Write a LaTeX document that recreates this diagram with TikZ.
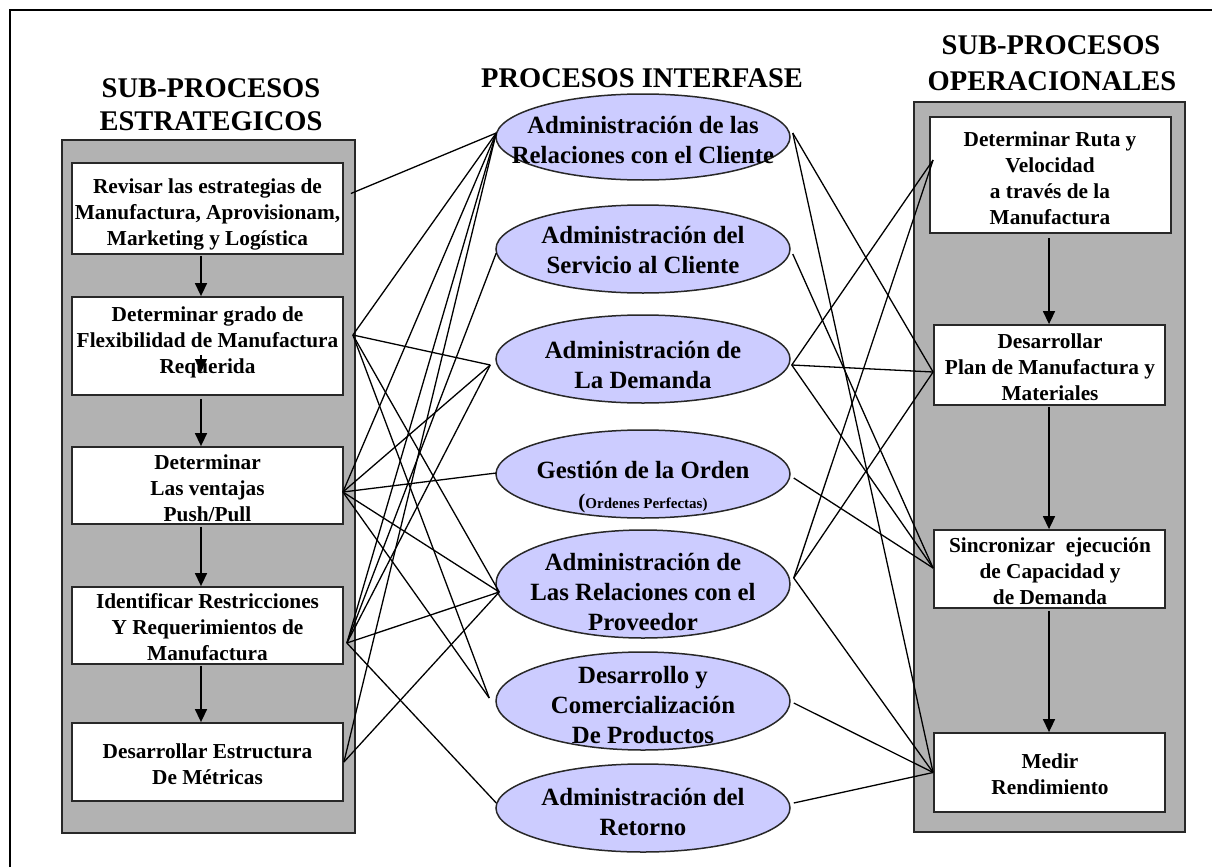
\documentclass[tikz,border=0pt]{standalone}
\usepackage{fontspec}
\setmainfont{Liberation Serif}
\usetikzlibrary{shapes.geometric,arrows.meta,calc}
\definecolor{panelgray}{RGB}{178,178,178}
\definecolor{ellfill}{RGB}{204,204,255}
\definecolor{edge}{RGB}{40,40,40}
\newcommand\ttlfont{\fontsize{28.5}{33}\selectfont\bfseries}
\newcommand\bxfont{\fontsize{21.3}{26}\selectfont\bfseries}
\newcommand\elfont{\fontsize{24.8}{30}\selectfont\bfseries}
\newcommand\smfont{\fontsize{15}{18}\selectfont\bfseries}
\begin{document}
\begin{tikzpicture}[x=1pt,y=-1pt,
  panel/.style={draw=edge, fill=panelgray, line width=1.6pt, inner sep=0pt},
  sbox/.style={draw=edge, fill=white, line width=1.8pt, inner sep=0pt},
  btext/.style={align=center, font=\bxfont, inner sep=0pt},
  ell/.style={ellipse, draw=edge, fill=ellfill, line width=1.5pt, inner sep=0pt, minimum width=294pt},
  etext/.style={align=center, font=\elfont, inner sep=0pt},
  ttl/.style={font=\ttlfont, anchor=base, inner sep=0pt},
  link/.style={draw=black, line width=1.3pt},
  flow/.style={-{Triangle[width=12pt,length=13pt]}, line width=1.5pt}]
\useasboundingbox (0,0) rectangle (1212,867);
\fill[white] (0,0) rectangle (1212,867);
% outer frame
\draw[line width=2.2pt] (10,867) -- (10,10) -- (1212,10);

% titles
\node[ttl] (t1a) at (211,97) {SUB-PROCESOS};
\node[ttl] (t1b) at (211,130) {ESTRATEGICOS};
\node[ttl] (t2) at (642,88) {PROCESOS INTERFASE};
\node[ttl] (t3a) at (1051,55) {SUB-PROCESOS};
\node[ttl] (t3b) at (1052,90) {OPERACIONALES};

% grey panels
\node[panel, minimum width=293pt, minimum height=693pt] (PS) at (208.5,486.5) {};
\node[panel, minimum width=271pt, minimum height=730pt] (PO) at (1049.5,467) {};

% strategic sub-processes
\node[sbox, minimum width=271pt, minimum height=91pt] (L1) at (207.5,208.5) {};
\node[sbox, minimum width=271pt, minimum height=98pt] (L2) at (207.5,346) {};
\node[sbox, minimum width=271pt, minimum height=77pt] (L3) at (207.5,485.5) {};
\node[sbox, minimum width=271pt, minimum height=77pt] (L4) at (207.5,625.5) {};
\node[sbox, minimum width=271pt, minimum height=78pt] (L5) at (207.5,762) {};

% operational sub-processes
\node[sbox, minimum width=241pt, minimum height=116pt] (R1) at (1050.5,175) {};
\node[sbox, minimum width=231pt, minimum height=80pt] (R2) at (1049.5,365) {};
\node[sbox, minimum width=231pt, minimum height=78pt] (R3) at (1049.5,569) {};
\node[sbox, minimum width=231pt, minimum height=79pt] (R4) at (1049.5,772.5) {};

% interface processes
\node[ell, minimum height=86pt] (E1) at (643,137) {};
\node[ell, minimum height=88pt] (E2) at (643,249) {};
\node[ell, minimum height=88pt] (E3) at (643,359) {};
\node[ell, minimum height=88pt] (E4) at (643,474) {};
\node[ell, minimum height=108pt] (E5) at (643,584) {};
\node[ell, minimum height=98pt] (E6) at (643,701) {};
\node[ell, minimum height=88pt] (E7) at (643,808) {};

% flow arrows
\coordinate (ax) at (201,0);
\coordinate (bx) at (1049,0);
\draw[flow] ($(L1.south -| ax)+(0,1)$) -- (L2.north -| ax);
\draw[flow] (201,355) -- (201,372);
\draw[flow] ($(L2.south -| ax)+(0,3)$) -- (L3.north -| ax);
\draw[flow] ($(L3.south -| ax)+(0,2)$) -- (L4.north -| ax);
\draw[flow] ($(L4.south -| ax)+(0,1)$) -- (L5.north -| ax);
\draw[flow] ($(R1.south -| bx)+(0,4)$) -- (R2.north -| bx);
\draw[flow] ($(R2.south -| bx)+(0,1)$) -- (R3.north -| bx);
\draw[flow] ($(R3.south -| bx)+(0,2)$) -- (R4.north -| bx);

% connection ports
\coordinate (pl1) at ($(L1.east)+(7,-15)$);
\coordinate (pl2) at ($(L2.east)+(9,-11)$);
\coordinate (pl3) at ($(L3.east)+(-1,6.5)$);
\coordinate (pl4) at ($(L4.east)+(3,17.5)$);
\coordinate (pl5) at ($(L5.east)+(0,0)$);
\coordinate (pe1) at ($(E1.west)+(1,-4)$);
\coordinate (pe2) at ($(E2.west)+(1,4)$);
\coordinate (pe3) at ($(E3.west)+(-5,6)$);
\coordinate (pe4) at ($(E4.west)+(1,-1)$);
\coordinate (pe5) at ($(E5.west)+(4,8)$);
\coordinate (pe6) at ($(E6.west)+(-6,-3)$);
\coordinate (pe7) at ($(E7.west)+(1,-5)$);
\coordinate (qe1) at ($(E1.east)+(2,-4)$);
\coordinate (qe2) at ($(E2.east)+(2,5)$);
\coordinate (qe3) at ($(E3.east)+(1,6)$);
\coordinate (qe4) at ($(E4.east)+(3,4)$);
\coordinate (qe5) at ($(E5.east)+(3,-6)$);
\coordinate (qe6) at ($(E6.east)+(3,2)$);
\coordinate (qe7) at ($(E7.east)+(3,-5)$);
\coordinate (pr1) at ($(R1.west)+(4,-15)$);
\coordinate (pr2) at ($(R2.west)+(0,7)$);
\coordinate (pr3) at ($(R3.west)+(0,-1)$);
\coordinate (pr4) at (R4.west);

% strategic sub-processes to interface processes
\foreach \a/\b in {pl1/pe1, pl2/pe1, pl2/pe3, pl2/pe5, pl2/pe6,
  pl3/pe1, pl3/pe3, pl3/pe4, pl3/pe5, pl3/pe6,
  pl4/pe1, pl4/pe2, pl4/pe3, pl4/pe5, pl4/pe7,
  pl5/pe1, pl5/pe5}
  \draw[link] (\a) -- (\b);
% interface processes to operational sub-processes
\foreach \a/\b in {qe1/pr2, qe1/pr4, qe2/pr3, qe3/pr1, qe3/pr2, qe3/pr3,
  qe4/pr3, qe5/pr1, qe5/pr2, qe5/pr4, qe6/pr4, qe7/pr4}
  \draw[link] (\a) -- (\b);

% texts
\node[btext] (L1t) at (207.5,214) {Revisar las estrategias de\\Manufactura, Aprovisionam,\\Marketing y Logística};
\node[btext] (L2t) at (207.5,342) {Determinar grado de\\Flexibilidad de Manufactura\\Requerida};
\node[btext] (L3t) at (207.5,488) {Determinar\\Las ventajas\\Push/Pull};
\node[btext] (L4t) at (207.5,627) {Identificar Restricciones\\Y Requerimientos de\\Manufactura};
\node[btext] (L5t) at (207.5,764) {Desarrollar Estructura\\De Métricas};

\node[btext] (R1t) at (1050,178) {Determinar Ruta y\\Velocidad\\a través de la\\Manufactura};
\node[btext] (R2t) at (1050,367) {Desarrollar\\Plan de Manufactura y\\Materiales};
\node[btext] (R3t) at (1050,571) {Sincronizar\ \ ejecución\\de Capacidad y\\de Demanda};
\node[btext] (R4t) at (1050,774) {Medir\\Rendimiento};

\node[etext] (E1t) at (643,140) {Administración de las\\Relaciones con el Cliente};
\node[etext] (E2t) at (643,250) {Administración del\\Servicio al Cliente};
\node[etext] (E3t) at (643,365) {Administración de\\La Demanda};
\node[etext] (E4t) at (643,470) {Gestión de la Orden};
\node[font=\smfont, inner sep=0pt] (E4s) at (643,503) {{\fontsize{21}{21}\selectfont(}Ordenes Perfectas)};
\node[etext] (E5t) at (643,592) {Administración de\\Las Relaciones con el\\Proveedor};
\node[etext] (E6t) at (643,705) {Desarrollo y\\Comercialización\\De Productos};
\node[etext] (E7t) at (643,812) {Administración del\\Retorno};
\end{tikzpicture}
\end{document}
